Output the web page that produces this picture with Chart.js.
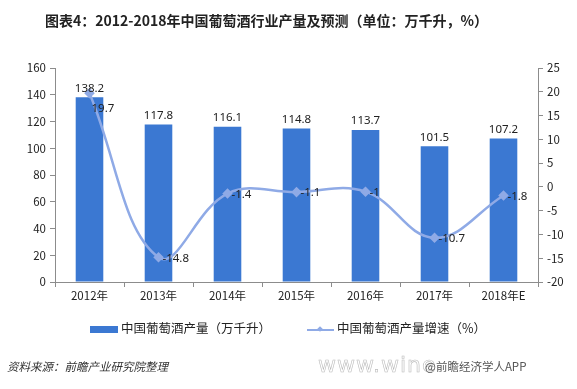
<!DOCTYPE html>
<html>
<head>
<meta charset="utf-8">
<script src="https://cdn.jsdelivr.net/npm/chart.js@4/dist/chart.umd.min.js"></script>
<style>
  body { margin: 0; background: #fff; font-family: "Noto Sans CJK SC", "Noto Sans", sans-serif; }
  #wrap { position: relative; width: 577px; height: 389px; overflow: hidden; }
  #chart { position: absolute; left: 0; top: 0; }
  .title { position: absolute; top: 10px; left: 45px; font-size: 14px; font-weight: bold; color: #222; white-space: nowrap; }
  .legend { position: absolute; top: 318px; font-size: 12.5px; color: #222; white-space: nowrap; }
  .source { position: absolute; left: 7px; top: 358px; font-size: 11.5px; font-style: italic; color: #333; }
  .wm1 { position: absolute; left: 318px; top: 352px; font-size: 22px; color: #fff; -webkit-text-stroke: 0.6px #bbb; font-family: "DejaVu Sans"; letter-spacing: 1px; }
  .wm2 { position: absolute; left: 425px; top: 358px; font-size: 11.5px; color: #555; }
</style>
</head>
<body>
<div id="wrap">
  <canvas id="chart" width="577" height="389"></canvas>
  <div class="title">图表4：2012-2018年中国葡萄酒行业产量及预测（单位：万千升，%）</div>
  <div class="legend" style="left:90px;"><span style="display:inline-block;width:28px;height:7px;background:#3B78D2;vertical-align:middle;margin-right:3px;"></span>中国葡萄酒产量（万千升）</div>
  <div class="legend" style="left:307px;"><span style="display:inline-block;position:relative;width:27px;height:7px;vertical-align:middle;margin-right:3px;"><span style="position:absolute;left:0;top:2.5px;width:27px;height:2px;background:#8FAAE6;"></span><span style="position:absolute;left:11px;top:1px;width:4px;height:4px;background:#8FAAE6;transform:rotate(45deg);"></span></span>中国葡萄酒产量增速（%）</div>
  <div class="source">资料来源：前瞻产业研究院整理</div>
  <div class="wm1">www.wine</div>
  <div class="wm2">@前瞻经济学人APP</div>
</div>
<script>
const categories = ['2012年', '2013年', '2014年', '2015年', '2016年', '2017年', '2018年E'];
const output = [138.2, 117.8, 116.1, 114.8, 113.7, 101.5, 107.2];
const growth = [19.7, -14.8, -1.4, -1.1, -1, -10.7, -1.8];
const leftTicks = [0, 20, 40, 60, 80, 100, 120, 140, 160];
const rightTicks = [-20, -15, -10, -5, 0, 5, 10, 15, 20, 25];

const barColor = '#3B78D2';
const lineColor = '#8FAAE6';
const axisColor = '#8c8c8c';
const textColor = '#222';
const tickFont = { family: 'Noto Sans CJK SC', size: 11.5 };

// value labels: bars above, line points to the right
const valueLabels = {
    id: 'valueLabels',
    afterDatasetsDraw(chart) {
        const ctx = chart.ctx;
        ctx.save();
        ctx.font = '11.5px "Noto Sans", sans-serif';
        ctx.fillStyle = textColor;
        chart.getDatasetMeta(1).data.forEach((bar, i) => {
            ctx.textAlign = 'center';
            ctx.textBaseline = 'bottom';
            ctx.fillText(String(output[i]), bar.x, bar.y - 3);
        });
        chart.getDatasetMeta(0).data.forEach((pt, i) => {
            ctx.textAlign = 'left';
            ctx.textBaseline = 'middle';
            if (i === 0) {
                ctx.fillText(String(growth[i]), pt.x + 2, pt.y + 16);
            } else {
                ctx.fillText(String(growth[i]), pt.x + 4, pt.y + 1);
            }
        });
        ctx.restore();
    }
};

new Chart(document.getElementById('chart'), {
    data: {
        labels: categories,
        datasets: [
            {
                type: 'line',
                label: '中国葡萄酒产量增速（%）',
                data: growth,
                yAxisID: 'y1',
                borderColor: lineColor,
                backgroundColor: lineColor,
                borderWidth: 2.5,
                pointStyle: 'rectRot',
                pointRadius: 3.5,
                tension: 0.4,
                fill: false,
                order: 0
            },
            {
                type: 'bar',
                label: '中国葡萄酒产量（万千升）',
                data: output,
                yAxisID: 'y',
                backgroundColor: barColor,
                categoryPercentage: 1,
                barPercentage: 0.4,
                order: 1
            }
        ]
    },
    options: {
        responsive: false,
        animation: false,
        layout: { padding: { top: 68, left: 0, right: 0, bottom: 0 } },
        plugins: {
            legend: { display: false },
            tooltip: { enabled: false }
        },
        scales: {
            x: {
                afterFit: s => { s.height = 107; },
                grid: { offset: true, drawOnChartArea: false, tickLength: 5, color: axisColor },
                border: { color: axisColor },
                ticks: { color: textColor, font: tickFont, padding: 2, maxRotation: 0 }
            },
            y: {
                position: 'left',
                min: 0,
                max: 160,
                afterFit: s => { s.width = 55; },
                afterBuildTicks: s => { s.ticks = leftTicks.map(v => ({ value: v })); },
                grid: { drawOnChartArea: false, tickLength: 5, color: axisColor },
                border: { color: axisColor },
                ticks: { color: textColor, font: tickFont, padding: 4 }
            },
            y1: {
                position: 'right',
                min: -20,
                max: 25,
                afterFit: s => { s.width = 39; },
                afterBuildTicks: s => { s.ticks = rightTicks.map(v => ({ value: v })); },
                grid: { drawOnChartArea: false, tickLength: 5, color: axisColor },
                border: { color: axisColor },
                ticks: { color: textColor, font: tickFont, padding: 4 }
            }
        }
    },
    plugins: [valueLabels]
});
</script>
</body>
</html>
